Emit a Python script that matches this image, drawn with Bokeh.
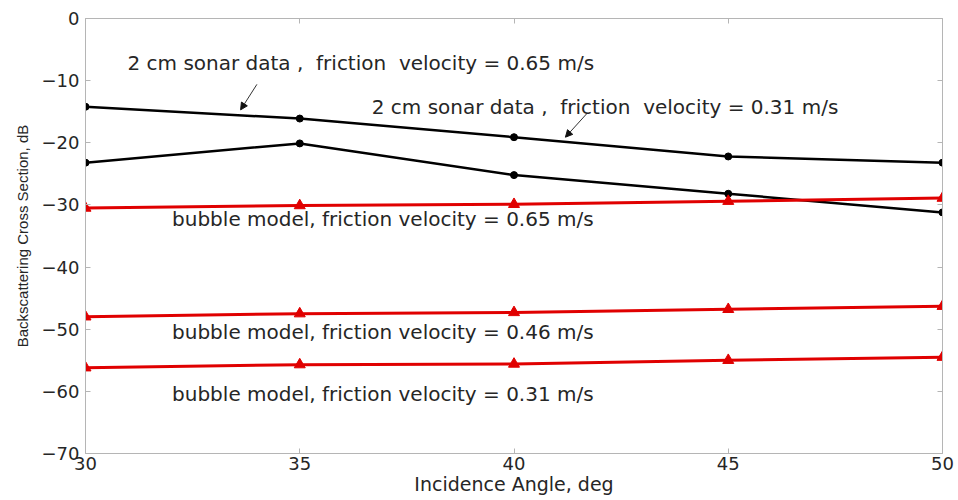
from bokeh.plotting import figure
from bokeh.models import Range1d, FixedTicker, LinearAxis, Arrow, NormalHead, ColumnDataSource
from bokeh.core.properties import value
from bokeh.embed import file_html
from bokeh.resources import INLINE

# ---- data ----
angles = [30, 35, 40, 45, 50]
sonar_065 = [-14.2, -16.1, -19.1, -22.2, -23.2]
sonar_031 = [-23.2, -20.1, -25.2, -28.2, -31.2]
bubble_065 = [-30.5, -30.1, -29.9, -29.4, -28.9]
bubble_046 = [-48.0, -47.5, -47.3, -46.8, -46.3]
bubble_031 = [-56.2, -55.7, -55.6, -55.0, -54.5]

x_ticks = [30, 35, 40, 45, 50]
y_ticks = [0, -10, -20, -30, -40, -50, -60, -70]

label_texts = [
    "2 cm sonar data ,\u00a0 friction\u00a0 velocity = 0.65 m/s",
    "2 cm sonar data ,\u00a0 friction\u00a0 velocity = 0.31 m/s",
    "bubble model, friction velocity = 0.65 m/s",
    "bubble model, friction velocity = 0.46 m/s",
    "bubble model, friction velocity = 0.31 m/s",
]
label_x = [30.98, 36.68, 32.02, 32.02, 32.02]
label_y = [-7.1, -14.2, -32.3, -50.4, -60.5]

# arrows: (x_start, y_start, x_end, y_end)
arrow_xs = [34.0, 41.7]
arrow_ys = [-10.6, -15.3]
arrow_xe = [33.62, 41.2]
arrow_ye = [-14.7, -19.1]

FONT = "DejaVu Sans"
TXT = "#262626"
AX = "#b5b5b5"
RED = "#e00000"

p = figure(width=958, height=500, output_backend="svg", toolbar_location=None,
           x_range=Range1d(30, 50), y_range=Range1d(-70, 0))
p.min_border_left = 85
p.min_border_right = 16
p.min_border_top = 18
p.min_border_bottom = 47
p.outline_line_color = None
p.background_fill_color = "white"
p.border_fill_color = "white"
p.xgrid.visible = False
p.ygrid.visible = False

# main axes
for ax in (p.xaxis[0], p.yaxis[0]):
    ax.axis_line_color = AX
    ax.major_tick_line_color = AX
    ax.minor_tick_line_color = None
    ax.major_tick_in = 5
    ax.major_tick_out = 0
    ax.major_label_text_font = FONT
    ax.major_label_text_color = TXT
    ax.axis_label_text_color = TXT
    ax.axis_label_text_font_style = "normal"

p.xaxis[0].ticker = FixedTicker(ticks=x_ticks)
p.yaxis[0].ticker = FixedTicker(ticks=y_ticks)
p.xaxis[0].major_label_text_font_size = "18px"
p.yaxis[0].major_label_text_font_size = "18px"
p.xaxis[0].major_label_standoff = 3
p.yaxis[0].major_label_standoff = 6
p.xaxis[0].axis_label = "Incidence Angle, deg"
p.xaxis[0].axis_label_text_font = FONT
p.xaxis[0].axis_label_text_font_size = "19px"
p.xaxis[0].axis_label_standoff = 0
p.yaxis[0].axis_label = "Backscattering Cross Section, dB"
p.yaxis[0].axis_label_text_font = "Liberation Sans"
p.yaxis[0].axis_label_text_font_size = "15px"
p.yaxis[0].axis_label_standoff = 8

# box axes (ticks only, no labels)
top = LinearAxis(ticker=FixedTicker(ticks=x_ticks),
                 major_label_overrides={t: "" for t in x_ticks})
right = LinearAxis(ticker=FixedTicker(ticks=y_ticks),
                   major_label_overrides={t: "" for t in y_ticks})
for ax in (top, right):
    ax.axis_line_color = AX
    ax.major_tick_line_color = AX
    ax.minor_tick_line_color = None
    ax.major_tick_in = 5
    ax.major_tick_out = 0
    ax.major_label_standoff = 0
p.add_layout(top, "above")
p.add_layout(right, "right")

# lines
for ys in (sonar_065, sonar_031):
    p.line(angles, ys, line_color="black", line_width=2.5)
    p.scatter(angles, ys, marker="circle", size=7, fill_color="black", line_color="black")

for ys in (bubble_065, bubble_046, bubble_031):
    p.line(angles, ys, line_color=RED, line_width=3)
    p.scatter(angles, ys, marker="triangle", size=11, fill_color=RED, line_color=RED)

# annotations
src = ColumnDataSource(dict(x=label_x, y=label_y, t=label_texts))
p.text(x="x", y="y", text="t", source=src, text_font=value(FONT),
       text_font_size="20px", text_color=TXT, text_baseline="middle", text_align="left")

for xs, ys, xe, ye in zip(arrow_xs, arrow_ys, arrow_xe, arrow_ye):
    p.add_layout(Arrow(x_start=xs, y_start=ys, x_end=xe, y_end=ye,
                       line_color="#333333", line_width=1,
                       end=NormalHead(size=7, fill_color="#111111", line_color="#111111")))

open("out.html", "w").write(file_html(p, INLINE))
